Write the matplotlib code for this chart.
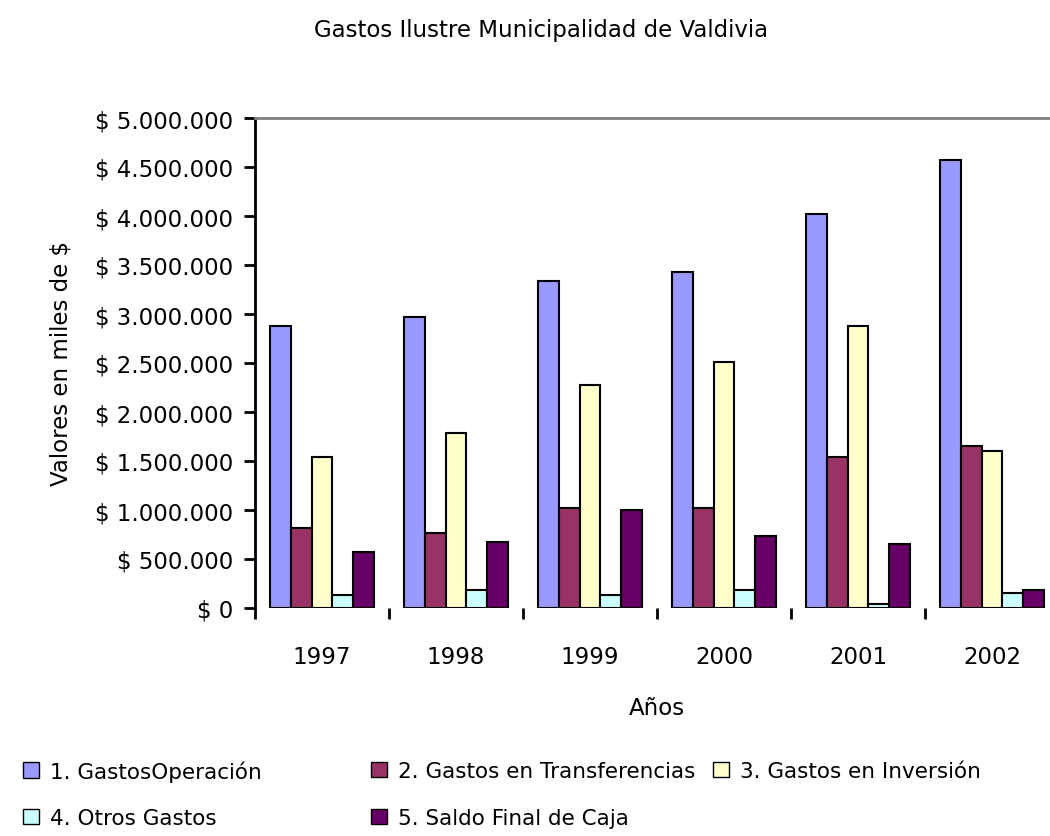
import matplotlib.pyplot as plt
import matplotlib.ticker as mticker
from matplotlib.patches import Patch
import numpy as np

# Data (values in miles de $)
years = ['1997', '1998', '1999', '2000', '2001', '2002']
operacion = [2880000, 2970000, 3340000, 3430000, 4020000, 4570000]
transferencias = [820000, 770000, 1020000, 1020000, 1540000, 1650000]
inversion = [1540000, 1790000, 2280000, 2510000, 2880000, 1600000]
otros = [130000, 180000, 130000, 180000, 40000, 150000]
saldo = [570000, 670000, 1000000, 730000, 650000, 180000]

series_names = ['1. GastosOperación', '2. Gastos en Transferencias',
                '3. Gastos en Inversión', '4. Otros Gastos',
                '5. Saldo Final de Caja']
series_values = [operacion, transferencias, inversion, otros, saldo]
colors = ['#9999FF', '#993366', '#FFFFCC', '#CCFFFF', '#660066']

plt.rcParams['font.family'] = 'DejaVu Sans'
fs = 16.5

fig = plt.figure(figsize=(10.5, 8.37), dpi=100)
W, H = 1050, 837
# axes extends past right edge like the original (cropped chart)
ax = fig.add_axes([255 / W, 1 - 609 / H, (1059 - 255) / W, (609 - 119) / H])

x = np.arange(len(years))
bw = 0.155
for i, (vals, col) in enumerate(zip(series_values, colors)):
    ax.bar(x + (i - 2) * bw, vals, bw, color=col, edgecolor='black', linewidth=1.5)

ax.set_xlim(-0.5, len(years) - 0.5)
ax.set_ylim(0, 5000000)
ax.yaxis.set_major_locator(mticker.MultipleLocator(500000))
ax.yaxis.set_major_formatter(mticker.FuncFormatter(
    lambda v, _: '$ ' + f'{int(v):,}'.replace(',', '.')))

ax.set_xticks(x)
ax.set_xticklabels(years)
ax.set_xticks(np.arange(-0.5, len(years), 1.0), minor=True)
ax.tick_params(axis='x', which='major', length=0, pad=27, labelsize=fs)
ax.tick_params(axis='x', which='minor', length=8, width=2, direction='out')
ax.tick_params(axis='y', length=8, width=2, direction='out', pad=8, labelsize=fs)

for side in ['bottom', 'right']:
    ax.spines[side].set_visible(False)
ax.spines['left'].set_linewidth(2)
ax.spines['top'].set_color('#808080')
ax.spines['top'].set_linewidth(2)

ax.set_xlabel('Años', fontsize=fs, labelpad=20)
ax.set_ylabel('Valores en miles de $', fontsize=fs, labelpad=16)
fig.text(541 / W, 1 - 30 / H, 'Gastos Ilustre Municipalidad de Valdivia',
         ha='center', va='center', fontsize=fs)

# Legend: one entry per box, placed by hand to match the original grid
lfs = 15.5
handles = [Patch(facecolor=c, edgecolor='black', linewidth=1) for c in colors]
spots = [(19, 772), (367, 772), (709, 772), (19, 819), (367, 819)]
for k, (xp, yp) in enumerate(spots):
    fig.legend([handles[k]], [series_names[k]], loc='center left',
               bbox_to_anchor=(xp / W, 1 - yp / H), frameon=False, fontsize=lfs,
               handlelength=0.75, handleheight=0.75, handletextpad=0.5,
               borderaxespad=0, borderpad=0.2)

plt.savefig('out.png', dpi=100)
